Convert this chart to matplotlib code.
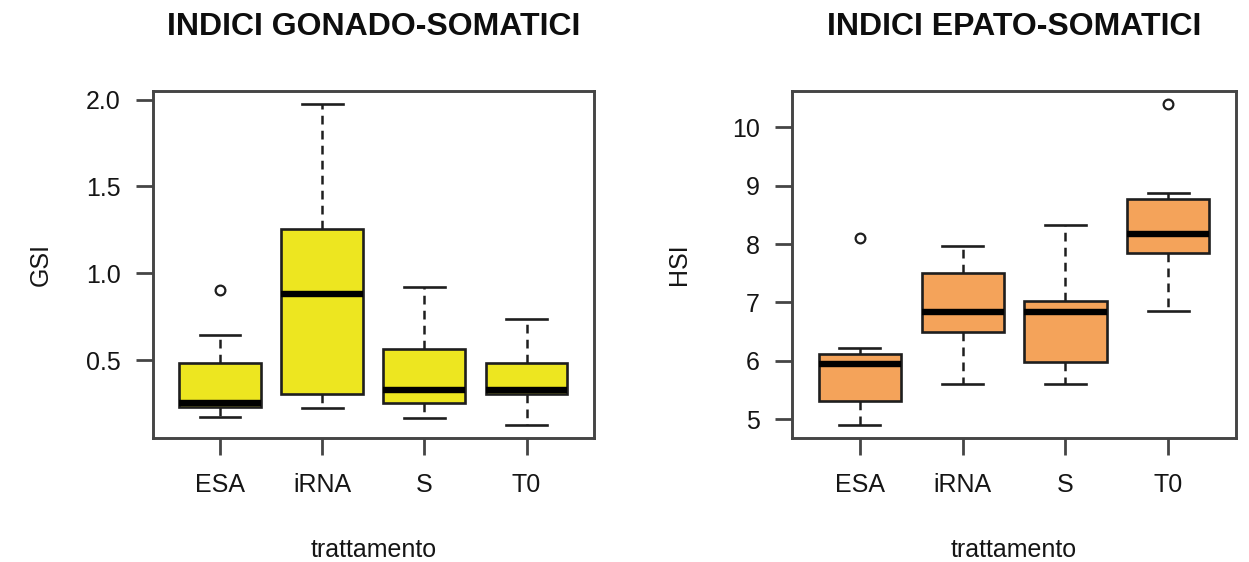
import matplotlib
matplotlib.use("Agg")
import matplotlib.pyplot as plt

plt.rcParams["font.family"] = ["Liberation Sans", "DejaVu Sans"]

categories = ["ESA", "iRNA", "S", "T0"]

# Gonado-somatic index summary per treatment
gsi_whislo = [0.174, 0.226, 0.168, 0.126]
gsi_q1 = [0.232, 0.308, 0.251, 0.308]
gsi_med = [0.251, 0.883, 0.331, 0.327]
gsi_q3 = [0.485, 1.257, 0.567, 0.485]
gsi_whishi = [0.644, 1.975, 0.921, 0.735]
gsi_fliers = [[0.902], [], [], []]
gsi_ticks = [0.5, 1.0, 1.5, 2.0]

# Hepato-somatic index summary per treatment
hsi_whislo = [4.90, 5.61, 5.61, 6.86]
hsi_q1 = [5.31, 6.49, 5.98, 7.84]
hsi_med = [5.95, 6.83, 6.83, 8.18]
hsi_q3 = [6.11, 7.50, 7.02, 8.77]
hsi_whishi = [6.22, 7.97, 8.32, 8.88]
hsi_fliers = [[8.11], [], [], [10.40]]
hsi_ticks = [5, 6, 7, 8, 9, 10]

W, H = 1249, 562
fig = plt.figure(figsize=(W / 100, H / 100), dpi=100)

edge = "#1e1e1e"
frame = "#454545"
txt = "#151515"


def panel(rect, whislo, q1, med, q3, whishi, fliers, ticks, fmt,
          color, title, ylabel):
    ax = fig.add_axes(rect)
    stats = []
    for i, lab in enumerate(categories):
        stats.append(dict(label=lab, whislo=whislo[i], q1=q1[i], med=med[i],
                          q3=q3[i], whishi=whishi[i], fliers=fliers[i]))
    pos = list(range(1, len(categories) + 1))
    ax.bxp(stats, positions=pos, widths=0.8, patch_artist=True,
           showfliers=True,
           boxprops=dict(facecolor=color, edgecolor=edge, linewidth=1.9),
           medianprops=dict(color="black", linewidth=4.6, solid_capstyle="butt"),
           whiskerprops=dict(color=edge, linewidth=1.8, linestyle=(0, (3.5, 2.5))),
           capprops=dict(color=edge, linewidth=1.9),
           flierprops=dict(marker="o", markerfacecolor="none",
                           markeredgecolor=edge, markersize=7,
                           markeredgewidth=1.6),
           capwidths=0.4)
    allv = whislo + whishi + [v for f in fliers for v in f]
    lo, hi = min(allv), max(allv)
    pad = 0.04 * (hi - lo)
    ax.set_ylim(lo - pad, hi + pad)
    n = len(categories)
    ax.set_xlim(0.5 - 0.04 * n, n + 0.5 + 0.04 * n)
    ax.set_xticks(pos)
    ax.set_xticklabels(categories)
    ax.set_yticks(ticks)
    ax.set_yticklabels([fmt.format(t) for t in ticks])
    for s in ax.spines.values():
        s.set_color(frame)
        s.set_linewidth(2.1)
    ax.tick_params(axis="both", length=12, width=2.0, color=frame,
                   labelsize=18, labelcolor=txt)
    ax.tick_params(axis="x", pad=13)
    ax.tick_params(axis="y", pad=11)
    ax.set_xlabel("trattamento", fontsize=18, color=txt)
    ax.xaxis.set_label_coords(0.5, -0.323)
    ax.xaxis.label.set_va("center")
    ax.set_ylabel(ylabel, fontsize=18, color=txt)
    ax.yaxis.set_label_coords(-0.254, 0.5)
    ax.yaxis.label.set_va("center")
    ax.text(0.5, 1.185, title, transform=ax.transAxes, ha="center",
            va="center", fontsize=23, fontweight="bold", color="#0e0e0e")
    return ax


def rect(x0, x1, ytop, ybot):
    return [x0 / W, 1 - ybot / H, (x1 - x0) / W, (ybot - ytop) / H]


panel(rect(152.5, 594, 91, 438), gsi_whislo, gsi_q1, gsi_med, gsi_q3,
      gsi_whishi, gsi_fliers, gsi_ticks, "{:.1f}", "#EDE620",
      "INDICI GONADO-SOMATICI", "GSI")
panel(rect(792, 1236, 91, 438), hsi_whislo, hsi_q1, hsi_med, hsi_q3,
      hsi_whishi, hsi_fliers, hsi_ticks, "{:d}", "#F4A35A",
      "INDICI EPATO-SOMATICI", "HSI")

fig.savefig("out.png", dpi=100, facecolor="white")
